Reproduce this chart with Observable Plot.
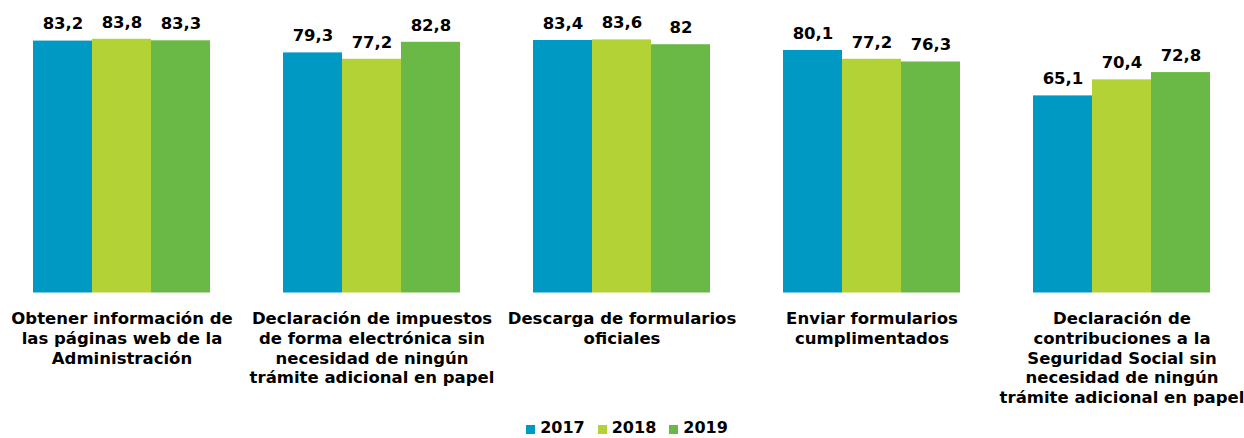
<!DOCTYPE html>
<html>
<head>
<meta charset="utf-8">
<script src="https://cdn.jsdelivr.net/npm/d3@7"></script>
<script src="https://cdn.jsdelivr.net/npm/@observablehq/plot@0.6"></script>
<style>
  html, body { margin: 0; padding: 0; background: #fff; }
  body { width: 1244px; height: 438px; overflow: hidden; font-family: Verdana, "DejaVu Sans", sans-serif; }
  #legend { display: flex; justify-content: center; align-items: center; gap: 13px; height: 20px;
            padding-top: 0; padding-left: 10px; box-sizing: content-box;
            font-weight: bold; font-size: 16px; color: #000; line-height: 20px; }
  #legend .item { display: flex; align-items: center; }
  #legend .sw { width: 9px; height: 9px; margin-right: 5px; margin-top: 2px; }
</style>
</head>
<body>
<div id="chart"></div>
<div id="legend"></div>
<script>
const categories = [
  "Obtener información de\nlas páginas web de la\nAdministración",
  "Declaración de impuestos\nde forma electrónica sin\nnecesidad de ningún\ntrámite adicional en papel",
  "Descarga de formularios\noficiales",
  "Enviar formularios\ncumplimentados",
  "Declaración de\ncontribuciones a la\nSeguridad Social sin\nnecesidad de ningún\ntrámite adicional en papel"
];
const years = ["2017", "2018", "2019"];
const values2017 = [83.2, 79.3, 83.4, 80.1, 65.1];
const values2018 = [83.8, 77.2, 83.6, 77.2, 70.4];
const values2019 = [83.3, 82.8, 82, 76.3, 72.8];
const colors = ["#0099c4", "#b3d236", "#6ab946"];

const series = [values2017, values2018, values2019];
const data = [];
categories.forEach((c, i) => {
  years.forEach((y, j) => data.push({ cat: c, year: y, value: series[j][i] }));
});

const fmt = v => String(v).replace(".", ",");
const font = 'Verdana, "DejaVu Sans", sans-serif';

const chart = Plot.plot({
  width: 1244,
  height: 418,
  marginLeft: 0,
  marginRight: 0,
  marginTop: 20,
  marginBottom: 125.5,
  style: { fontFamily: font, background: "#fff" },
  fx: { domain: categories, range: [-4, 1246], paddingInner: 0.284, paddingOuter: 0.142, axis: null, label: null },
  x: { domain: years, padding: 0, axis: null },
  y: { domain: [0, 90], axis: null },
  color: { domain: years, range: colors },
  marks: [
    Plot.barY(data, { fx: "cat", x: "year", y: "value", fill: "year" }),
    Plot.text(data, { fx: "cat", x: "year", y: "value", text: d => fmt(d.value), dy: -17,
                      fontSize: 16.5, fontWeight: "bold", fill: "#000" }),
    Plot.axisFx({ anchor: "bottom", tickSize: 0, tickPadding: 17, fontSize: 16.5, fontWeight: "bold",
                  lineHeight: 1.2, fill: "#000", label: null })
  ]
});
document.getElementById("chart").appendChild(chart);

const legend = document.getElementById("legend");
years.forEach((y, j) => {
  const item = document.createElement("div");
  item.className = "item";
  const sw = document.createElement("span");
  sw.className = "sw";
  sw.style.background = colors[j];
  const t = document.createElement("span");
  t.textContent = y;
  item.appendChild(sw);
  item.appendChild(t);
  legend.appendChild(item);
});
</script>
</body>
</html>
